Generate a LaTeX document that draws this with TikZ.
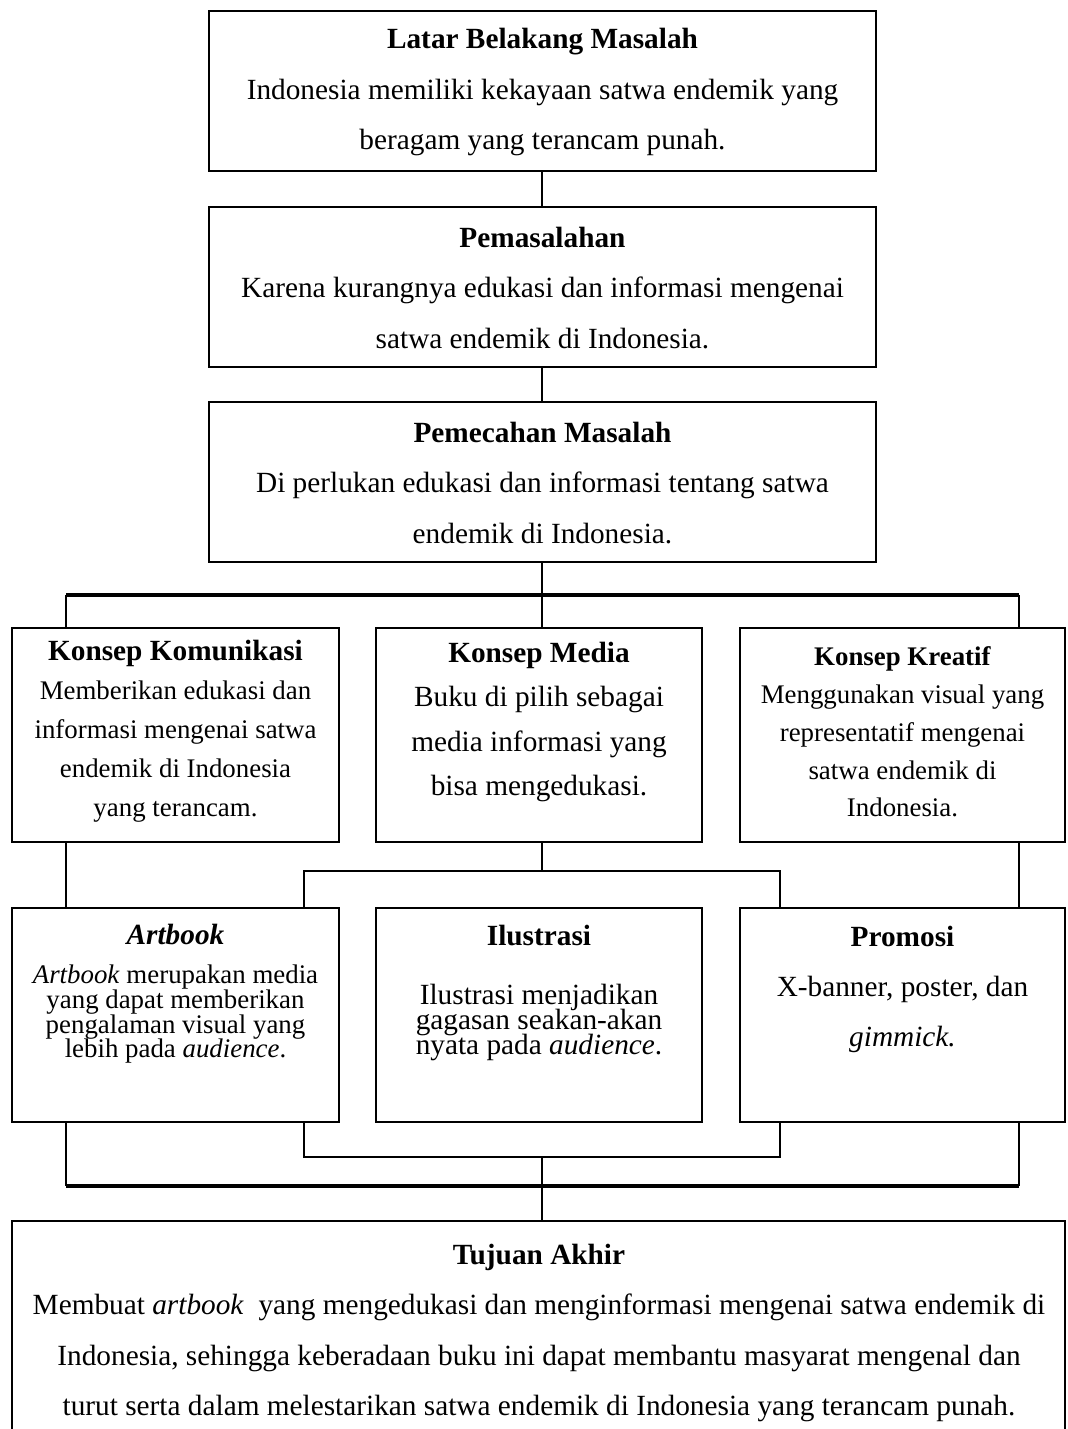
\documentclass[tikz,border=0pt]{standalone}
\usepackage{fontspec}
\setmainfont{Liberation Serif}
\usetikzlibrary{fit}
\begin{document}
\begin{tikzpicture}[x=0.4096pt,y=-0.4096pt,
  box/.style={draw, line width=0.9pt, inner sep=0pt, rectangle},
  txt/.style={align=center, inner sep=0pt},
  conn/.style={line width=1.2pt},
  barline/.style={line width=1.7pt},
  thinline/.style={line width=0.6pt},
  line join=miter]
\useasboundingbox (0,0) rectangle (1067,1429);
% boxes
\node[box, fit={(209,11)(876,171)}] (b1) {};
\node[box, fit={(209,207)(876,367)}] (b2) {};
\node[box, fit={(209,402)(876,562)}] (b3) {};
\node[box, fit={(12,628)(339,842)}] (A) {};
\node[box, fit={(376,628)(702,842)}] (B) {};
\node[box, fit={(740,628)(1065,842)}] (C) {};
\node[box, fit={(12,908)(339,1122)}] (D) {};
\node[box, fit={(376,908)(702,1122)}] (E) {};
\node[box, fit={(740,908)(1065,1122)}] (F) {};
\node[box, fit={(12,1221)(1065,1450)}] (G) {};
% texts
\node[txt, font=\fontsize{12}{20.5}\selectfont] (t1) at (542.5,92)
  {\textbf{Latar Belakang Masalah}\\Indonesia memiliki kekayaan satwa endemik yang\\beragam yang terancam punah.};
\node[txt, font=\fontsize{12}{20.5}\selectfont] (t2) at (542.5,288)
  {\textbf{Pemasalahan}\\Karena kurangnya edukasi dan informasi mengenai\\satwa endemik di Indonesia.};
\node[txt, font=\fontsize{12}{20.5}\selectfont] (t3) at (542.5,483)
  {\textbf{Pemecahan Masalah}\\Di perlukan edukasi dan informasi tentang satwa\\endemik di Indonesia.};
\node[txt, font=\fontsize{11}{16}\selectfont] (tA) at (175.5,731)
  {{\fontsize{12}{16}\selectfont\bfseries Konsep Komunikasi}\\Memberikan edukasi dan\\informasi mengenai satwa\\endemik di Indonesia\\yang terancam.};
\node[txt, font=\fontsize{12}{18.2}\selectfont] (tB) at (539,722)
  {\textbf{Konsep Media}\\Buku di pilih sebagai\\media informasi yang\\bisa mengedukasi.};
\node[txt, font=\fontsize{11}{15.5}\selectfont] (tC) at (902.5,732)
  {\textbf{Konsep Kreatif}\\Menggunakan visual yang\\representatif mengenai\\satwa endemik di\\Indonesia.};
\node[txt, font={\fontsize{11}{10.1}\selectfont\lineskiplimit=-20pt}] (tD) at (175.5,994)
  {{\fontsize{12}{10.1}\selectfont\bfseries\itshape Artbook}\\[5.9pt]\textit{Artbook} merupakan media\\yang dapat memberikan\\pengalaman visual yang\\lebih pada \textit{audience}.};
\node[txt, font={\fontsize{12}{10.25}\selectfont\lineskiplimit=-20pt}] (tE) at (539,993)
  {\textbf{Ilustrasi}\\[13.9pt]Ilustrasi menjadikan\\gagasan seakan-akan\\nyata pada \textit{audience}.};
\node[txt, font=\fontsize{12}{20.5}\selectfont] (tF) at (902.5,989)
  {\textbf{Promosi}\\X-banner, poster, dan\\\textit{gimmick.}};
\node[txt, font=\fontsize{12}{20.5}\selectfont] (tG) at (539,1333)
  {\textbf{Tujuan Akhir}\\Membuat \textit{artbook} \ yang mengedukasi dan menginformasi mengenai satwa endemik di\\Indonesia, sehingga keberadaan buku ini dapat membantu masyarat mengenal dan\\turut serta dalam melestarikan satwa endemik di Indonesia yang terancam punah.};
% helper coordinates
\coordinate (xl) at (66,0);
\coordinate (xr) at (1019,0);
\coordinate (xm) at (542,0);
\coordinate (xil) at (304,0);
\coordinate (xir) at (780,0);
\coordinate (bar1) at (542,595);
\coordinate (thin1) at (542,871);
\coordinate (thin2) at (542,1157);
\coordinate (bar2) at (542,1186);
% connectors
\draw[conn] (b1.south -| xm) -- (b2.north -| xm);
\draw[conn] (b2.south -| xm) -- (b3.north -| xm);
\draw[conn] (b3.south -| xm) -- (bar1);
\draw[barline] (bar1 -| xl) -- (bar1 -| xr);
\draw[conn] (bar1 -| xl) -- (A.north -| xl);
\draw[conn] (bar1) -- (B.north -| xm);
\draw[conn] (bar1 -| xr) -- (C.north -| xr);
\draw[conn] (A.south -| xl) -- (D.north -| xl);
\draw[conn] (C.south -| xr) -- (F.north -| xr);
\draw[conn] (B.south -| xm) -- (thin1);
\draw[thinline] (D.north -| xil) |- (thin1) -| (F.north -| xir);
\draw[thinline] (D.south -| xil) |- (thin2) -| (F.south -| xir);
\draw[conn] (thin2) -- (G.north -| xm);
\draw[conn] (D.south -| xl) -- (bar2 -| xl);
\draw[conn] (F.south -| xr) -- (bar2 -| xr);
\draw[barline] (bar2 -| xl) -- (bar2 -| xr);
\end{tikzpicture}
\end{document}
